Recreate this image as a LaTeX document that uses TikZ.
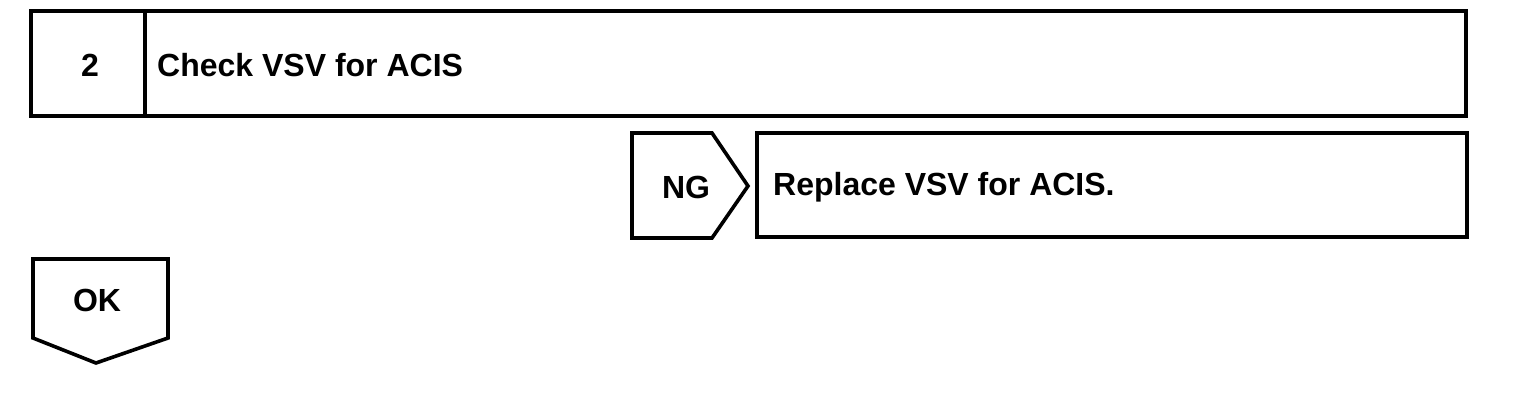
\documentclass[tikz,border=0pt]{standalone}
\usepackage{fontspec}
\setmainfont{Liberation Sans}
\usetikzlibrary{positioning}

\begin{document}
\begin{tikzpicture}[
    x=1pt, y=-1pt,
    frame/.style={draw, line width=3.6pt, line join=miter},
    txt/.style={font=\fontsize{32}{38}\selectfont\bfseries, inner sep=0pt},
]
    \useasboundingbox (0,0) rectangle (1536,416);

    % Step header
    \draw[frame] (31,11) rectangle (1466,116);
    \draw[frame] (145,11) -- (145,116);
    \node[txt] (stepno) at (90,65) {2};
    \node[txt, anchor=west] (check) at (157,65) {Check VSV for ACIS};

    % NG branch
    \draw[frame] (632,133) -- (712,133) -- (748,186) -- (712,238) -- (632,238) -- cycle;
    \node[txt] (ng) at (686,187) {NG};
    \draw[frame] (757,133) rectangle (1467,237);
    \node[txt, anchor=west] (replace) at (773,187) {Replace VSV for ACIS.};

    % OK branch
    \draw[frame] (33,259) -- (168,259) -- (168,338) -- (96,363) -- (33,338) -- cycle;
    \node[txt] (ok) at (97,300) {OK};
\end{tikzpicture}
\end{document}
